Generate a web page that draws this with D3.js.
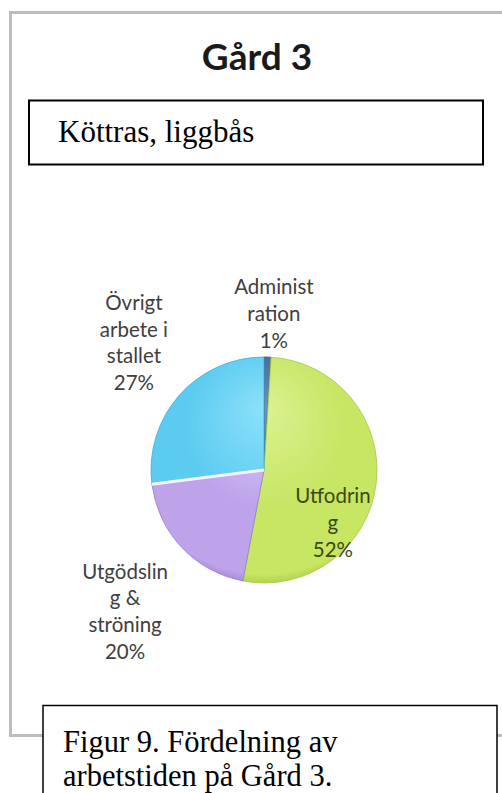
<!DOCTYPE html>
<html>
<head>
<meta charset="utf-8">
<script src="https://cdn.jsdelivr.net/npm/d3@7"></script>
<style>
  html, body { margin: 0; padding: 0; background: #fff; }
  svg { display: block; }
</style>
</head>
<body>
<svg id="chart" width="502" height="793"></svg>
<script>
// Fördelning av arbetstiden, Gård 3 (andel i procent)
const categories = ["Administ ration", "Utfodring", "Utgödsling & ströning", "Övrigt arbete i stallet"];
const values = [1, 52, 20, 27];
// Etiketter som de radbryts i diagrammet
const labelLines = [
  ["Administ", "ration", "1%"],
  ["Utfodrin", "g", "52%"],
  ["Utgödslin", "g &", "ströning", "20%"],
  ["Övrigt", "arbete i", "stallet", "27%"]
];
const title = "Gård 3";
const subtitle = "Köttras, liggbås";
const caption = ["Figur 9. Fördelning av", "arbetstiden på Gård 3."];

// Färger per tårtbit: ljus ton, grundton, mörk kant
const palette = [
  { light: "#6f8fbd", base: "#45668f", edge: "#36527a" },
  { light: "#dbf292", base: "#c7e664", edge: "#a6c943" },
  { light: "#ddcdfb", base: "#bda3ea", edge: "#9a7dcf" },
  { light: "#8ce1fa", base: "#5bcbf0", edge: "#3cb0de" }
];

const svg = d3.select("#chart");
const defs = svg.append("defs");

// Diagramramen (grå), högerkanten utanför bild
svg.append("rect")
  .attr("x", 10.5).attr("y", 12.5)
  .attr("width", 520).attr("height", 723)
  .attr("fill", "#fff")
  .attr("stroke", "#bdbdbd").attr("stroke-width", 3);

svg.append("text")
  .attr("x", 257).attr("y", 70)
  .attr("text-anchor", "middle")
  .attr("font-family", "Lato, 'Open Sans', sans-serif")
  .attr("font-weight", 700)
  .attr("font-size", 37)
  .attr("fill", "#1a1a1a")
  .text(title);

// Rubrikruta
svg.append("rect")
  .attr("x", 29).attr("y", 100.5)
  .attr("width", 454).attr("height", 64)
  .attr("fill", "#fff")
  .attr("stroke", "#000").attr("stroke-width", 2);
svg.append("text")
  .attr("x", 58).attr("y", 142)
  .attr("font-family", "'Liberation Serif', 'Times New Roman', serif")
  .attr("font-size", 31)
  .attr("fill", "#000")
  .text(subtitle);

// Tårtdiagram
const cx = 264, cy = 470, radius = 113;
const pie = d3.pie().sort(null).value(d => d).startAngle(0).endAngle(2 * Math.PI);
const arcs = pie(values);
const arc = d3.arc().innerRadius(0).outerRadius(radius);

// Gradienter i tårtgruppens koordinater (origo i mitten)
palette.forEach((p, i) => {
  const g = defs.append("radialGradient")
    .attr("id", "grad" + i)
    .attr("gradientUnits", "userSpaceOnUse")
    .attr("cx", 0).attr("cy", -radius * 0.25)
    .attr("r", radius * 1.3)
    .attr("fx", 0).attr("fy", -radius * 0.55);
  g.append("stop").attr("offset", "0%").attr("stop-color", p.light);
  g.append("stop").attr("offset", "55%").attr("stop-color", p.base);
  g.append("stop").attr("offset", "92%").attr("stop-color", p.base);
  g.append("stop").attr("offset", "100%").attr("stop-color", p.edge);
});

const pieG = svg.append("g").attr("transform", `translate(${cx},${cy})`);
pieG.selectAll("path.slice")
  .data(arcs)
  .join("path")
  .attr("class", "slice")
  .attr("d", arc)
  .attr("fill", (d, i) => `url(#grad${i})`)
  .attr("stroke", (d, i) => palette[i].edge)
  .attr("stroke-opacity", 0.8)
  .attr("stroke-width", 1);

// Ljus kant mellan lila och blå bit
const sep = arcs[3].startAngle;
pieG.append("line")
  .attr("x1", 0).attr("y1", 0)
  .attr("x2", Math.sin(sep) * radius).attr("y2", -Math.cos(sep) * radius)
  .attr("stroke", "#f6f2ff").attr("stroke-width", 3);

// Etiketter: ankarvinkel från tårtbiten, avstånd som andel av radien
const labelArcRadius = [1.38, 0.615, 1.82, 1.7];
const labelShift = [[5, 0], [0, 44], [11, 1], [14, 0]];
const lineGap = 26.8;
const labelG = svg.append("g")
  .attr("font-family", "Lato, 'Open Sans', sans-serif")
  .attr("font-size", 20.5)
  .attr("text-anchor", "middle");

arcs.forEach((d, i) => {
  const la = d3.arc().innerRadius(radius * labelArcRadius[i]).outerRadius(radius * labelArcRadius[i]);
  const [lx, ly] = la.centroid(d);
  const lines = labelLines[i];
  const x0 = cx + lx + labelShift[i][0];
  const y0 = cy + ly + labelShift[i][1] - (lines.length - 1) * lineGap / 2;
  const t = labelG.append("text")
    .attr("fill", i === 1 ? "#3b4a10" : "#404040");
  lines.forEach((s, k) => {
    t.append("tspan")
      .attr("x", x0)
      .attr("y", y0 + k * lineGap + 7)
      .text(s);
  });
});

// Figurtext
svg.append("rect")
  .attr("x", 43).attr("y", 705.5)
  .attr("width", 454).attr("height", 120)
  .attr("fill", "#fff")
  .attr("stroke", "#000").attr("stroke-width", 1.5);
const cap = svg.append("text")
  .attr("font-family", "'Liberation Serif', 'Times New Roman', serif")
  .attr("font-size", 30.5)
  .attr("fill", "#000");
caption.forEach((s, k) => {
  cap.append("tspan").attr("x", 63).attr("y", 752 + k * 34).text(s);
});
</script>
</body>
</html>
